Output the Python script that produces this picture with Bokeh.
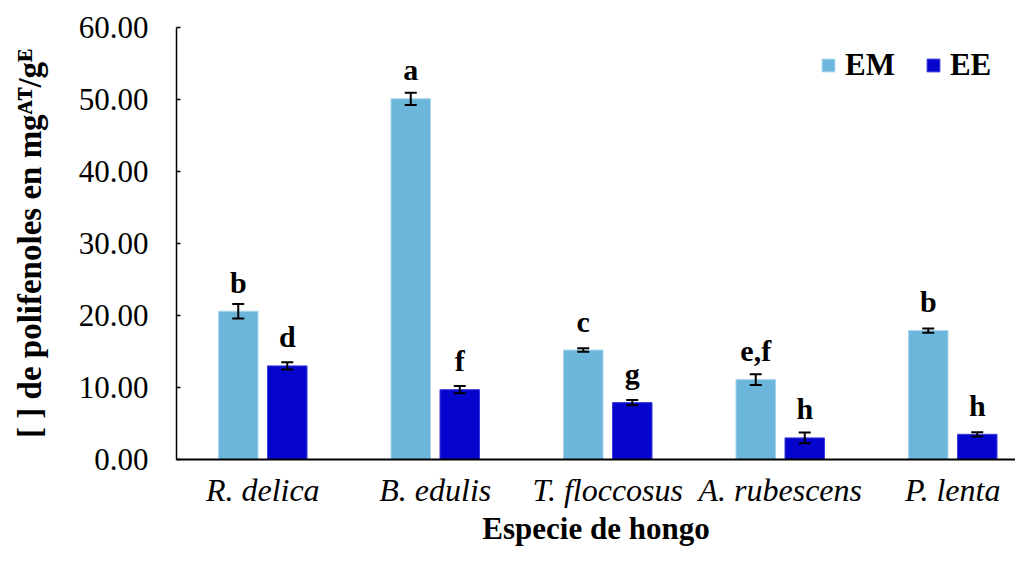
from bokeh.plotting import figure
from bokeh.models import (ColumnDataSource, Range1d, FixedTicker, NumeralTickFormatter,
                          Whisker, TeeHead, Legend, LegendItem)
from bokeh.core.properties import value
from bokeh.embed import file_html
from bokeh.resources import INLINE

# ---------------- data ----------------
species = ["R. delica", "B. edulis", "T. floccosus", "A. rubescens", "P. lenta"]
em_values = [20.6, 50.1, 15.2, 11.1, 17.9]
em_errors = [1.0, 0.85, 0.25, 0.75, 0.3]
em_letters = ["b", "a", "c", "e,f", "b"]
ee_values = [13.0, 9.7, 7.9, 3.0, 3.5]
ee_errors = [0.5, 0.5, 0.35, 0.75, 0.3]
ee_letters = ["d", "f", "g", "h", "h"]
y_ticks = [0, 10, 20, 30, 40, 50, 60]

# ---------------- layout ----------------
W, H = 1015, 549
FL, FT, FB, FR = 176, 27, 459, 1015
GROUP_PX = 172.5
X_END = (FR - FL) / GROUP_PX
Y_MAX = 60

FONT = "Liberation Serif"
FONT_Q = '"Liberation Serif", "Times New Roman", serif'
C_EM = "#6CB6DC"
C_EE = "#0505CD"

OFF = 24.5 / GROUP_PX
BW = 39.5 / GROUP_PX

centers = [i + 0.5 for i in range(len(species))]
em_src = ColumnDataSource(dict(
    x=[c - OFF for c in centers], top=em_values,
    upper=[v + e for v, e in zip(em_values, em_errors)],
    lower=[v - e for v, e in zip(em_values, em_errors)],
    lbl=em_letters))
ee_src = ColumnDataSource(dict(
    x=[c + OFF for c in centers], top=ee_values,
    upper=[v + e for v, e in zip(ee_values, ee_errors)],
    lower=[v - e for v, e in zip(ee_values, ee_errors)],
    lbl=ee_letters))

p = figure(width=W, height=H, output_backend="svg", toolbar_location=None,
           x_range=Range1d(0, X_END), y_range=Range1d(0, Y_MAX),
           min_border_left=FL, min_border_right=W - FR,
           min_border_top=FT, min_border_bottom=H - FB)
p.outline_line_color = None
p.grid.visible = False
p.background_fill_color = "white"
p.border_fill_color = "white"

r_em = p.vbar(x="x", top="top", width=BW, source=em_src,
              fill_color=C_EM, line_color="#A9D6EE", line_width=1)
r_ee = p.vbar(x="x", top="top", width=BW, source=ee_src,
              fill_color=C_EE, line_color="#3B3BDB", line_width=1)

for src in (em_src, ee_src):
    w = Whisker(base="x", upper="upper", lower="lower", source=src,
                line_color="black", line_width=2, level="overlay",
                upper_head=TeeHead(size=12, line_width=2, line_color="black"),
                lower_head=TeeHead(size=12, line_width=2, line_color="black"))
    p.add_layout(w)
    p.text(x="x", y="top", text="lbl", source=src,
           text_font=value(FONT), text_font_style="bold", text_font_size="30px",
           text_align="center", text_baseline="alphabetic", y_offset=-29,
           text_color="black")

# axes
p.xaxis.ticker = FixedTicker(ticks=centers)
p.xaxis.major_label_overrides = {c: s for c, s in zip(centers, species)}
p.xaxis.major_label_text_font = FONT_Q
p.xaxis.major_label_text_font_style = "italic"
p.xaxis.major_label_text_font_size = "32px"
p.xaxis.major_label_text_color = "black"
p.xaxis.major_label_standoff = 6
p.xaxis.major_tick_line_color = None
p.xaxis.minor_tick_line_color = None
p.xaxis.axis_line_color = "black"
p.xaxis.axis_line_width = 2
p.xaxis.axis_label = "Especie de hongo"
p.xaxis.axis_label_text_font = FONT_Q
p.xaxis.axis_label_text_font_style = "bold"
p.xaxis.axis_label_text_font_size = "31px"
p.xaxis.axis_label_text_color = "black"
p.xaxis.axis_label_standoff = 0

p.yaxis.ticker = FixedTicker(ticks=y_ticks)
p.yaxis.formatter = NumeralTickFormatter(format="0.00")
p.yaxis.major_label_text_font = FONT_Q
p.yaxis.major_label_text_font_size = "31px"
p.yaxis.major_label_text_color = "black"
p.yaxis.major_label_standoff = 28
p.yaxis.major_tick_in = 4
p.yaxis.major_tick_out = 0
p.yaxis.major_tick_line_color = "black"
p.yaxis.major_tick_line_width = 1.5
p.yaxis.minor_tick_line_color = None
p.yaxis.axis_line_color = "black"
p.yaxis.axis_line_width = 1.5
p.yaxis.axis_label = "[ ] de polifenoles en mg\u1d2c\u1d40/g\u1d31"
p.yaxis.axis_label_text_font = FONT_Q
p.yaxis.axis_label_text_font_style = "bold"
p.yaxis.axis_label_text_font_size = "33px"
p.yaxis.axis_label_text_color = "black"
p.yaxis.axis_label_standoff = 28

# legend
legend = Legend(items=[LegendItem(label="EM", renderers=[r_em]),
                       LegendItem(label="EE", renderers=[r_ee])],
                orientation="horizontal", location=(644, 376),
                glyph_width=16, glyph_height=16, label_standoff=9, spacing=30,
                padding=0, margin=0, border_line_color=None, background_fill_alpha=0,
                label_text_font=FONT, label_text_font_style="bold",
                label_text_font_size="31px", label_text_color="black")
p.add_layout(legend)

open("out.html", "w").write(file_html(p, INLINE))
